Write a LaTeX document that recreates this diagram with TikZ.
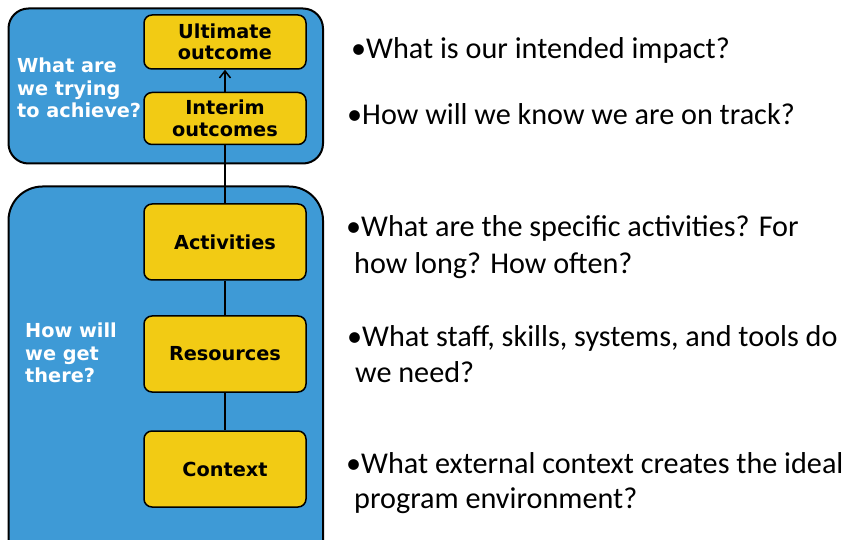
\documentclass[tikz,border=0pt]{standalone}
\usepackage{fontspec}
\setmainfont{Carlito}
\newfontfamily\vfont{DejaVu Sans}
\usetikzlibrary{arrows.meta}
\definecolor{regionblue}{RGB}{62,154,214}
\definecolor{stepyellow}{RGB}{242,203,20}
\tikzset{
  region/.style={draw=black, line width=2pt, fill=regionblue},
  stepbox/.style={draw=black, line width=1.5pt, fill=stepyellow, rounded corners=8pt,
    minimum width=162pt, inner sep=0pt, align=center,
    font=\vfont\bfseries\fontsize{19.3}{21.5}\selectfont},
  sidelabel/.style={text=white, inner sep=0pt, align=left, anchor=west,
    font=\vfont\bfseries\fontsize{19.3}{22.5}\selectfont},
  question/.style={inner sep=0pt, anchor=base west, font=\fontsize{30.2}{38}\selectfont},
  conn/.style={draw=black, line width=1.3pt}
}
\begin{document}
\begin{tikzpicture}[x=1pt,y=-1pt]
\useasboundingbox (0,0) rectangle (855,540);
\fill[white] (0,0) rectangle (855,540);
% regions
\draw[region, rounded corners=20pt] (8.5,8.5) rectangle (323,163.5);
\begin{scope}
\clip (0,0) rectangle (855,540);
\draw[region, rounded corners=34pt] (8.5,186.5) rectangle (323,620);
\end{scope}
% step boxes
\node (ultimate) [stepbox, minimum height=54pt] at (225,42) {Ultimate\\outcome};
\node (interim) [stepbox, minimum height=52pt] at (225,118.5) {Interim\\outcomes};
\node (activities) [stepbox, minimum height=76pt] at (225,242) {Activities};
\node (resources) [stepbox, minimum height=76pt] at (225,354) {Resources};
\node (context) [stepbox, minimum height=76pt] at (225,469) {Context};
% connectors
\draw[conn, -{Straight Barb[length=7pt,width=11pt,line width=1.5pt]}] (interim.north) -- (ultimate.south);
\draw[conn] (interim.south) -- (activities.north);
\draw[conn] (activities.south) -- (resources.north);
\draw[conn] (resources.south) -- (context.north);
% side labels
\node (achieve) [sidelabel] at (17,88) {What are\\we trying\\to achieve?};
\node (getthere) [sidelabel] at (25,353) {How will\\we get\\there?};
% questions
\node (q1) [question] at (351,59) {•What is our intended impact?};
\node (q2) [question] at (347,125) {•How will we know we are on track?};
\node (q3a) [question] at (346,237) {•What are the specific activities? For};
\node (q3b) [question] at (354,274) {how long? How often?};
\node (q4a) [question] at (347,347) {•What staff, skills, systems, and tools do};
\node (q4b) [question] at (355,383) {we need?};
\node (q5a) [question] at (346,473) {•What external context creates the ideal};
\node (q5b) [question] at (354,508) {program environment?};
\end{tikzpicture}
\end{document}
